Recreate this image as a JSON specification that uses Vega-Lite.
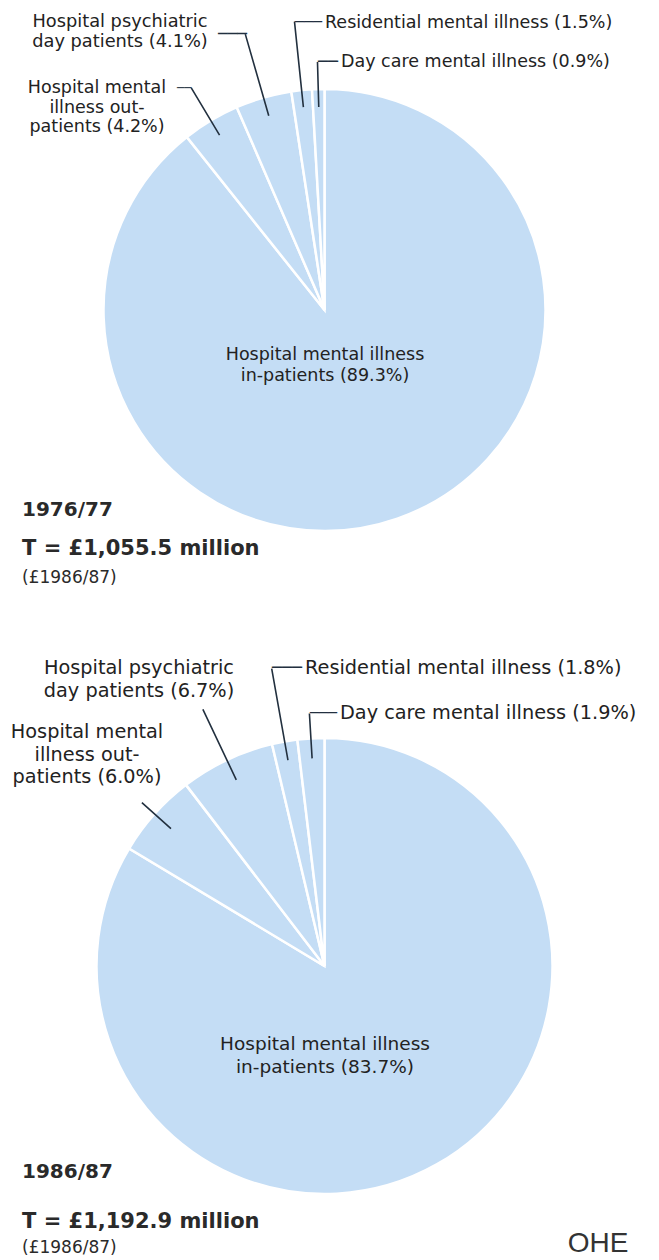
{
  "$schema": "https://vega.github.io/schema/vega-lite/v6.json",
  "padding": 0,
  "background": "#ffffff",
  "spacing": 52,
  "bounds": "flush",
  "config": {"view": {"stroke": null}},
  "datasets": {
    "y7677": [
      {"category": "In-patients", "label": "Hospital mental illness\nin-patients (89.3%)", "share": 89.3, "order": 1},
      {"category": "Out-patients", "label": "Hospital mental\nillness out-\npatients (4.2%)", "share": 4.2, "order": 2},
      {"category": "Day patients", "label": "Hospital psychiatric\nday patients (4.1%)", "share": 4.1, "order": 3},
      {"category": "Residential", "label": "Residential mental illness (1.5%)", "share": 1.5, "order": 4},
      {"category": "Day care", "label": "Day care mental illness (0.9%)", "share": 0.9, "order": 5}
    ],
    "y8687": [
      {"category": "In-patients", "label": "Hospital mental illness\nin-patients (83.7%)", "share": 83.7, "order": 1},
      {"category": "Out-patients", "label": "Hospital mental\nillness out-\npatients (6.0%)", "share": 6.0, "order": 2},
      {"category": "Day patients", "label": "Hospital psychiatric\nday patients (6.7%)", "share": 6.7, "order": 3},
      {"category": "Residential", "label": "Residential mental illness (1.8%)", "share": 1.8, "order": 4},
      {"category": "Day care", "label": "Day care mental illness (1.9%)", "share": 1.9, "order": 5}
    ]
  },
  "vconcat": [
    {
      "width": 649,
      "height": 620,
      "data": {"name": "y7677"},
      "layer": [
        {"mark": {"type": "arc", "radius": 221, "fill": "#c4ddf5", "stroke": "#ffffff", "strokeWidth": 2.5},
         "encoding": {"theta": {"field": "share", "type": "quantitative", "stack": "normalize"}, "order": {"field": "order", "type": "quantitative"}}},
        {"mark": {"type": "arc", "radius": 248, "radius2": 203, "padAngle": 3, "filled": false, "strokeWidth": 1.6},
         "encoding": {"theta": {"field": "share", "type": "quantitative", "stack": "normalize"}, "order": {"field": "order", "type": "quantitative"},
           "stroke": {"condition": {"test": "datum.category === 'Day care'", "value": "#22303f"}, "value": "transparent"}}},
        {"mark": {"type": "arc", "radius": 290, "radius2": 204, "padAngle": 3, "filled": false, "strokeWidth": 1.6},
         "encoding": {"theta": {"field": "share", "type": "quantitative", "stack": "normalize"}, "order": {"field": "order", "type": "quantitative"},
           "stroke": {"condition": {"test": "datum.category === 'Residential'", "value": "#22303f"}, "value": "transparent"}}},
        {"mark": {"type": "arc", "radius": 287, "radius2": 202, "padAngle": 3, "filled": false, "strokeWidth": 1.6},
         "encoding": {"theta": {"field": "share", "type": "quantitative", "stack": "normalize"}, "order": {"field": "order", "type": "quantitative"},
           "stroke": {"condition": {"test": "datum.category === 'Day patients'", "value": "#22303f"}, "value": "transparent"}}},
        {"mark": {"type": "arc", "radius": 259, "radius2": 204, "padAngle": 3, "filled": false, "strokeWidth": 1.6},
         "encoding": {"theta": {"field": "share", "type": "quantitative", "stack": "normalize"}, "order": {"field": "order", "type": "quantitative"},
           "stroke": {"condition": {"test": "datum.category === 'Out-patients'", "value": "#22303f"}, "value": "transparent"}}},
        {"transform": [{"filter": "datum.category === 'In-patients'"}],
         "mark": {"type": "text", "align": "center", "baseline": "middle", "dx": 0.5, "dy": 45, "font": "DejaVu Sans", "fontSize": 17.5, "lineHeight": 20.5, "lineBreak": "\n", "color": "#222222"},
         "encoding": {"text": {"field": "label"}}},
        {"transform": [{"filter": "datum.category === 'Out-patients'"}],
         "mark": {"type": "text", "align": "center", "baseline": "middle", "dx": -227.5, "dy": -222, "font": "DejaVu Sans", "fontSize": 17.5, "lineHeight": 19.5, "lineBreak": "\n", "color": "#222222"},
         "encoding": {"text": {"field": "label"}}},
        {"transform": [{"filter": "datum.category === 'Day patients'"}],
         "mark": {"type": "text", "align": "center", "baseline": "middle", "dx": -204.5, "dy": -288, "font": "DejaVu Sans", "fontSize": 17.8, "lineHeight": 19.5, "lineBreak": "\n", "color": "#222222"},
         "encoding": {"text": {"field": "label"}}},
        {"transform": [{"filter": "datum.category === 'Residential'"}],
         "mark": {"type": "text", "align": "left", "baseline": "middle", "dx": 0.5, "dy": -287, "font": "DejaVu Sans", "fontSize": 17.5, "color": "#222222"},
         "encoding": {"text": {"field": "label"}}},
        {"transform": [{"filter": "datum.category === 'Day care'"}],
         "mark": {"type": "text", "align": "left", "baseline": "middle", "dx": 16.5, "dy": -248, "font": "DejaVu Sans", "fontSize": 17.5, "color": "#222222"},
         "encoding": {"text": {"field": "label"}}},
        {"transform": [{"filter": "datum.category === 'Day patients'"}],
         "mark": {"type": "text", "text": "───", "align": "left", "baseline": "middle", "dx": -106.5, "dy": -276, "font": "DejaVu Sans", "fontSize": 16, "color": "#22303f"}},
        {"transform": [{"filter": "datum.category === 'Out-patients'"}],
         "mark": {"type": "text", "text": "──", "align": "left", "baseline": "middle", "dx": -147.5, "dy": -222, "font": "DejaVu Sans", "fontSize": 12, "color": "#22303f"}},
        {"transform": [{"filter": "datum.category === 'Residential'"}],
         "mark": {"type": "text", "text": "───", "align": "left", "baseline": "middle", "dx": -29.5, "dy": -288, "font": "DejaVu Sans", "fontSize": 15, "color": "#22303f"}},
        {"transform": [{"filter": "datum.category === 'Day care'"}],
         "mark": {"type": "text", "text": "──", "align": "left", "baseline": "middle", "dx": -6.5, "dy": -248, "font": "DejaVu Sans", "fontSize": 16.6, "color": "#22303f"}},
        {"transform": [{"filter": "datum.order === 1"}],
         "mark": {"type": "text", "text": "1976/77", "align": "left", "baseline": "middle", "dx": -302.5, "dy": 200, "font": "DejaVu Sans", "fontWeight": "bold", "fontSize": 20, "color": "#2a2a2a"}},
        {"transform": [{"filter": "datum.order === 1"}],
         "mark": {"type": "text", "text": "T = £1,055.5 million", "align": "left", "baseline": "middle", "dx": -302.5, "dy": 239, "font": "DejaVu Sans", "fontWeight": "bold", "fontSize": 21, "color": "#2a2a2a"}},
        {"transform": [{"filter": "datum.order === 1"}],
         "mark": {"type": "text", "text": "(£1986/87)", "align": "left", "baseline": "middle", "dx": -302.5, "dy": 268, "font": "DejaVu Sans", "fontSize": 17, "color": "#2a2a2a"}}
      ]
    },
    {
      "width": 649,
      "height": 588,
      "data": {"name": "y8687"},
      "layer": [
        {"mark": {"type": "arc", "radius": 228, "fill": "#c4ddf5", "stroke": "#ffffff", "strokeWidth": 2.5},
         "encoding": {"theta": {"field": "share", "type": "quantitative", "stack": "normalize"}, "order": {"field": "order", "type": "quantitative"}}},
        {"mark": {"type": "arc", "radius": 253, "radius2": 208, "padAngle": 3, "filled": false, "strokeWidth": 1.6},
         "encoding": {"theta": {"field": "share", "type": "quantitative", "stack": "normalize"}, "order": {"field": "order", "type": "quantitative"},
           "stroke": {"condition": {"test": "datum.category === 'Day care'", "value": "#22303f"}, "value": "transparent"}}},
        {"mark": {"type": "arc", "radius": 302, "radius2": 209, "padAngle": 3, "filled": false, "strokeWidth": 1.6},
         "encoding": {"theta": {"field": "share", "type": "quantitative", "stack": "normalize"}, "order": {"field": "order", "type": "quantitative"},
           "stroke": {"condition": {"test": "datum.category === 'Residential'", "value": "#22303f"}, "value": "transparent"}}},
        {"mark": {"type": "arc", "radius": 284, "radius2": 206, "padAngle": 3, "filled": false, "strokeWidth": 1.6},
         "encoding": {"theta": {"field": "share", "type": "quantitative", "stack": "normalize"}, "order": {"field": "order", "type": "quantitative"},
           "stroke": {"condition": {"test": "datum.category === 'Day patients'", "value": "#22303f"}, "value": "transparent"}}},
        {"mark": {"type": "arc", "radius": 245, "radius2": 206, "padAngle": 3, "filled": false, "strokeWidth": 1.6},
         "encoding": {"theta": {"field": "share", "type": "quantitative", "stack": "normalize"}, "order": {"field": "order", "type": "quantitative"},
           "stroke": {"condition": {"test": "datum.category === 'Out-patients'", "value": "#22303f"}, "value": "transparent"}}},
        {"transform": [{"filter": "datum.category === 'In-patients'"}],
         "mark": {"type": "text", "align": "center", "baseline": "middle", "dx": 0.5, "dy": 78, "font": "DejaVu Sans", "fontSize": 18.5, "lineHeight": 22.5, "lineBreak": "\n", "color": "#222222"},
         "encoding": {"text": {"field": "label"}}},
        {"transform": [{"filter": "datum.category === 'Out-patients'"}],
         "mark": {"type": "text", "align": "center", "baseline": "middle", "dx": -237.5, "dy": -234, "font": "DejaVu Sans", "fontSize": 19.3, "lineHeight": 22.5, "lineBreak": "\n", "color": "#222222"},
         "encoding": {"text": {"field": "label"}}},
        {"transform": [{"filter": "datum.category === 'Day patients'"}],
         "mark": {"type": "text", "align": "center", "baseline": "middle", "dx": -185.5, "dy": -298, "font": "DejaVu Sans", "fontSize": 19.3, "lineHeight": 22.5, "lineBreak": "\n", "color": "#222222"},
         "encoding": {"text": {"field": "label"}}},
        {"transform": [{"filter": "datum.category === 'Residential'"}],
         "mark": {"type": "text", "align": "left", "baseline": "middle", "dx": -19.5, "dy": -298, "font": "DejaVu Sans", "fontSize": 19.3, "color": "#222222"},
         "encoding": {"text": {"field": "label"}}},
        {"transform": [{"filter": "datum.category === 'Day care'"}],
         "mark": {"type": "text", "align": "left", "baseline": "middle", "dx": 15.5, "dy": -253, "font": "DejaVu Sans", "fontSize": 19.3, "color": "#222222"},
         "encoding": {"text": {"field": "label"}}},
        {"transform": [{"filter": "datum.category === 'Residential'"}],
         "mark": {"type": "text", "text": "───", "align": "left", "baseline": "middle", "dx": -52.5, "dy": -298, "font": "DejaVu Sans", "fontSize": 16.6, "color": "#22303f"}},
        {"transform": [{"filter": "datum.category === 'Day care'"}],
         "mark": {"type": "text", "text": "───", "align": "left", "baseline": "middle", "dx": -14.5, "dy": -253, "font": "DejaVu Sans", "fontSize": 15, "color": "#22303f"}},
        {"transform": [{"filter": "datum.order === 1"}],
         "mark": {"type": "text", "text": "1986/87", "align": "left", "baseline": "middle", "dx": -302.5, "dy": 206, "font": "DejaVu Sans", "fontWeight": "bold", "fontSize": 20, "color": "#2a2a2a"}},
        {"transform": [{"filter": "datum.order === 1"}],
         "mark": {"type": "text", "text": "T = £1,192.9 million", "align": "left", "baseline": "middle", "dx": -302.5, "dy": 256, "font": "DejaVu Sans", "fontWeight": "bold", "fontSize": 21, "color": "#2a2a2a"}},
        {"transform": [{"filter": "datum.order === 1"}],
         "mark": {"type": "text", "text": "(£1986/87)", "align": "left", "baseline": "middle", "dx": -302.5, "dy": 282, "font": "DejaVu Sans", "fontSize": 17, "color": "#2a2a2a"}},
        {"transform": [{"filter": "datum.order === 1"}],
         "mark": {"type": "text", "text": "OHE", "align": "center", "baseline": "middle", "dx": 273.5, "dy": 278, "font": "Liberation Sans", "fontSize": 28, "color": "#333333"}}
      ]
    }
  ]
}
